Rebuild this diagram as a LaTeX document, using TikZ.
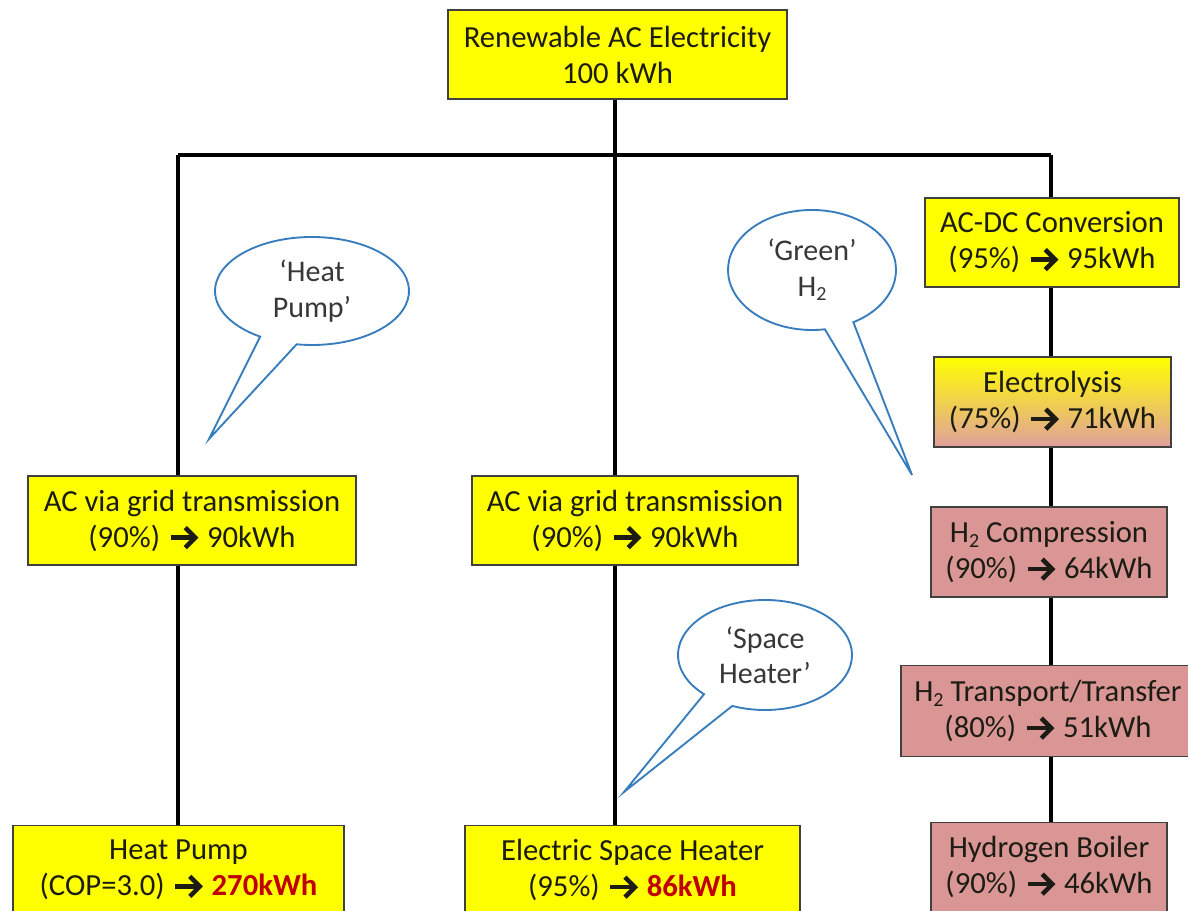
\documentclass[tikz,border=0pt]{standalone}
\usepackage{fontspec}
\setmainfont{Carlito}
\usetikzlibrary{calc}
\definecolor{boxyellow}{RGB}{255,255,0}
\definecolor{boxpink}{RGB}{217,150,148}
\definecolor{elecbottom}{RGB}{224,160,158}
\definecolor{callblue}{RGB}{55,125,190}
\definecolor{txt}{RGB}{28,28,20}
\definecolor{calltxt}{RGB}{55,55,55}
\definecolor{redtxt}{RGB}{192,0,0}
\newcommand\arr{\hspace{1pt}\tikz[baseline=-7pt]{\draw[line width=3.4pt, line cap=butt] (0pt,0pt) -- (17pt,0pt);
  \draw[line width=3.4pt, line join=miter, miter limit=10] (11pt,7.5pt) -- (18.5pt,0pt) -- (11pt,-7.5pt);}\hspace{2pt}}
\newcommand\Htwo{H\raisebox{-0.32ex}{\fontsize{15}{15}\selectfont 2}}
\newcommand\hot[1]{\textbf{\color{redtxt}#1}}
\tikzset{
  box/.style={draw=black!75, line width=0.9pt, fill=boxyellow, align=center,
    inner sep=0pt, text=txt, font=\fontsize{23}{27}\selectfont},
  pinkbox/.style={box, fill=boxpink},
  wire/.style={line width=3pt, black},
  callout/.style={draw=callblue, line width=1.4pt, fill=white, line join=miter},
  calltext/.style={align=center, text=calltxt, font=\fontsize{22.5}{26.5}\selectfont}
}
\begin{document}
\begin{tikzpicture}[x=0.75pt,y=0.75pt]
\useasboundingbox (0,0) rectangle (1188,910);
\clip (0,0) rectangle (1188,910);
\fill[white] (0,0) rectangle (1188,910);

% nodes
\node[box, minimum width=339*0.75pt, minimum height=89*0.75pt] (top) at (617.5,855.5) {Renewable AC Electricity\\100 kWh};
\node[box, minimum width=328*0.75pt, minimum height=89*0.75pt] (acL) at (192,389.5) {AC via grid transmission\\(90\%) \arr\ 90kWh};
\node[box, minimum width=326*0.75pt, minimum height=89*0.75pt] (acM) at (635,389.5) {AC via grid transmission\\(90\%) \arr\ 90kWh};
\node[box, minimum width=331*0.75pt, minimum height=89*0.75pt] (hp) at (178.5,40) {Heat Pump\\(COP=3.0) \arr\ \hot{270kWh}};
\node[box, minimum width=335*0.75pt, minimum height=89*0.75pt] (esh) at (632.5,40) {Electric Space Heater\\(95\%) \arr\ \hot{86kWh}};
\node[box, minimum width=254*0.75pt, minimum height=89*0.75pt] (acdc) at (1052,667.5) {AC-DC Conversion\\(95\%) \arr\ 95kWh};
\node[box, top color=boxyellow, bottom color=elecbottom, minimum width=237*0.75pt, minimum height=90*0.75pt] (elec) at (1052.5,508) {Electrolysis\\(75\%) \arr\ 71kWh};
\node[pinkbox, minimum width=236*0.75pt, minimum height=90*0.75pt] (comp) at (1049,358) {\Htwo{} Compression\\(90\%) \arr\ 64kWh};
\node[pinkbox, minimum width=294*0.75pt, minimum height=91*0.75pt] (trans) at (1048,199) {\Htwo{} Transport/Transfer\\(80\%) \arr\ 51kWh};
\node[pinkbox, minimum width=236*0.75pt, minimum height=89*0.75pt] (boil) at (1049,43) {Hydrogen Boiler\\(90\%) \arr\ 46kWh};

% wiring
\coordinate (jL) at (178,755);
\coordinate (jM) at (615,755);
\coordinate (jR) at (1051,755);
\draw[wire] (jL) -- (jR);
\draw[wire] (jM |- top.south) -- (jM |- acM.north);
\draw[wire] (jM |- acM.south) -- (jM |- esh.north);
\draw[wire] (jL) -- (jL |- acL.north);
\draw[wire] (jL |- acL.south) -- (jL |- hp.north);
\draw[wire] (jR) -- (jR |- acdc.north);
\draw[wire] (jR |- acdc.south) -- (jR |- elec.north);
\draw[wire] (jR |- elec.south) -- (jR |- comp.north);
\draw[wire] (jR |- comp.south) -- (jR |- trans.north);
\draw[wire] (jR |- trans.south) -- (jR |- boil.north);

% callouts
\coordinate (hpc) at (312,619);
\coordinate (hptip) at (209,471);
\draw[callout] ($(hpc)+(260.9:97 and 54)$) arc[start angle=260.9, end angle=597.7, x radius=97, y radius=54] -- (hptip) -- cycle;
\node[calltext] (hpt) at (hpc) {‘Heat\\Pump’};

\coordinate (gc) at (812,640);
\coordinate (gtip) at (912,435);
\draw[callout] ($(gc)+(299.5:84 and 60)$) arc[start angle=299.5, end angle=638.8, x radius=84, y radius=60] -- (gtip) -- cycle;
\node[calltext] (gt) at (gc) {‘Green’\\\Htwo};

\coordinate (sc) at (765,255);
\coordinate (stip) at (624,118);
\draw[callout] ($(sc)+(247.9:87 and 55)$) arc[start angle=247.9, end angle=585.5, x radius=87, y radius=55] -- (stip) -- cycle;
\node[calltext] (st) at (sc) {‘Space\\Heater’};
\end{tikzpicture}
\end{document}
